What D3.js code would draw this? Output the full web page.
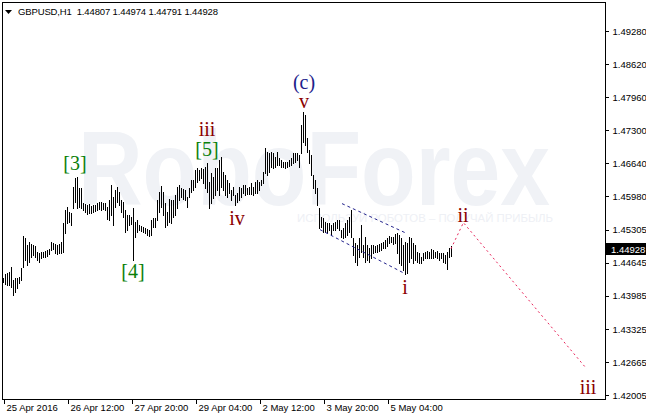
<!DOCTYPE html>
<html><head><meta charset="utf-8">
<script src="https://cdn.jsdelivr.net/npm/d3@7/dist/d3.min.js"></script>
<style>html,body{margin:0;padding:0;background:#fff;}svg{display:block;}</style>
</head><body>
<script>
// ---- data ----
const symbolTitle = "GBPUSD,H1  1.44807 1.44974 1.44791 1.44928";
const highs = [
1.4434,1.4442,1.4444,1.4446,1.4456,1.4430,1.4434,1.4434,1.4436,1.4454,
1.4518,1.4514,1.4500,1.4506,1.4502,1.4500,1.4498,1.4486,1.4484,1.4486,
1.4486,1.4488,1.4490,1.4492,1.4506,1.4504,1.4502,1.4500,1.4502,1.4506,
1.4544,1.4570,1.4576,1.4566,1.4564,1.4616,1.4634,1.4636,1.4614,1.4614,
1.4584,1.4582,1.4580,1.4582,1.4578,1.4580,
1.4580,1.4584,1.4586,1.4586,1.4584,1.4584,1.4576,1.4590,1.4620,1.4596,
1.4610,1.4616,1.4606,1.4590,1.4586,1.4570,1.4560,1.4560,1.4556,1.4574,
1.4546,1.4550,1.4540,1.4538,1.4536,1.4534,1.4532,1.4530,1.4550,1.4554,
1.4554,1.4590,1.4606,1.4618,1.4606,1.4584,1.4566,1.4592,1.4590,1.4590,
1.4600,1.4616,1.4620,1.4614,1.4612,1.4610,1.4596,
1.4614,1.4630,1.4630,1.4650,1.4654,1.4650,1.4654,
1.4652,1.4656,1.4664,1.4626,1.4644,1.4636,1.4654,1.4654,1.4670,1.4676,
1.4646,1.4640,1.4630,1.4624,1.4610,1.4616,1.4600,1.4604,1.4616,1.4614,
1.4620,1.4620,1.4614,1.4616,1.4624,1.4616,1.4626,1.4630,1.4626,1.4630,
1.4646,1.4694,1.4686,1.4684,1.4686,1.4684,1.4676,1.4686,
1.4674,1.4670,
1.4666,1.4666,1.4666,1.4670,1.4674,1.4684,1.4684,1.4684,1.4680,1.4740,
1.4766,1.4760,1.4714,1.4690,1.4680,1.4640,1.4630,1.4614,1.4574,1.4556,
1.4554,1.4546,1.4544,1.4544,1.4540,1.4544,1.4546,1.4550,1.4550,1.4530,
1.4534,1.4544,1.4550,1.4556,1.4570,1.4514,1.4504,1.4500,1.4514,1.4540,
1.4500,1.4516,1.4500,1.4494,1.4500,
1.4500,1.4498,1.4500,1.4502,1.4504,
1.4506,1.4510,1.4514,1.4518,1.4516,1.4516,1.4522,1.4524,1.4520,1.4514,
1.4500,1.4506,1.4504,1.4516,1.4514,1.4504,1.4500,1.4486,1.4484,1.4476,
1.4484,1.4486,1.4488,1.4486,1.4492,1.4490,1.4486,1.4488,1.4484,1.4484,
1.4484,1.4480,1.4486,1.4494,1.44974];
const lows = [
1.4426,1.4422,1.4420,1.4420,1.4416,1.4400,1.4406,1.4414,1.4424,1.4430,
1.4456,1.4470,1.4460,1.4466,1.4476,1.4480,1.4476,1.4470,1.4466,1.4474,
1.4476,1.4476,1.4478,1.4482,1.4490,1.4492,1.4484,1.4482,1.4484,1.4484,
1.4486,1.4524,1.4544,1.4546,1.4540,1.4574,1.4586,1.4574,1.4576,1.4574,
1.4570,1.4566,1.4562,1.4564,1.4564,1.4566,
1.4568,1.4570,1.4572,1.4570,1.4572,1.4570,1.4552,1.4550,1.4560,1.4540,
1.4576,1.4586,1.4580,1.4566,1.4556,1.4526,1.4530,1.4540,1.4542,1.4470,
1.4516,1.4526,1.4530,1.4528,1.4526,1.4524,1.4520,1.4518,1.4520,1.4536,
1.4536,1.4550,1.4566,1.4576,1.4560,1.4536,1.4540,1.4546,1.4544,1.4556,
1.4560,1.4574,1.4590,1.4596,1.4592,1.4590,1.4576,
1.4596,1.4606,1.4610,1.4616,1.4626,1.4630,1.4634,
1.4624,1.4614,1.4606,1.4574,1.4584,1.4594,1.4600,1.4610,1.4600,1.4616,
1.4610,1.4600,1.4596,1.4604,1.4590,1.4600,1.4580,1.4586,1.4590,1.4596,
1.4604,1.4600,1.4602,1.4602,1.4602,1.4600,1.4604,1.4604,1.4610,1.4620,
1.4624,1.4644,1.4640,1.4646,1.4656,1.4654,1.4656,1.4660,
1.4660,1.4656,
1.4656,1.4654,1.4656,1.4658,1.4660,1.4664,1.4666,1.4670,1.4656,1.4684,
1.4706,1.4700,1.4686,1.4664,1.4640,1.4614,1.4604,1.4580,1.4534,1.4536,
1.4526,1.4526,1.4524,1.4530,1.4520,1.4530,1.4530,1.4534,1.4530,1.4516,
1.4514,1.4516,1.4520,1.4526,1.4516,1.4480,1.4466,1.4460,1.4476,1.4486,
1.4476,1.4466,1.4470,1.4466,1.4474,
1.4484,1.4486,1.4486,1.4488,1.4490,
1.4494,1.4494,1.4498,1.4504,1.4506,1.4502,1.4504,1.4484,1.4464,1.4460,
1.4450,1.4442,1.4444,1.4466,1.4474,1.4464,1.4470,1.4466,1.4464,1.4464,
1.4470,1.4474,1.4474,1.4474,1.4474,1.4474,1.4476,1.4474,1.4470,1.4474,
1.4466,1.4464,1.4452,1.4476,1.44791];
const lastClose = 1.44928;

const yTicks = [1.49280,1.48620,1.47960,1.47300,1.46640,1.45980,1.45305,1.44645,1.43985,1.43325,1.42665,1.42005];
const xLabels = ["25 Apr 2016","26 Apr 12:00","27 Apr 20:00","29 Apr 04:00","2 May 12:00","3 May 20:00","5 May 04:00"];
const xLabelIdx = [0,32,64,96,128,160,192];

// wave projection (bar index, price)
const projIdx = [224, 230.2, 291.8];
const projPrice = [1.44928, 1.4545, 1.4253];
// triangle / channel lines
const chanUpperIdx = [169.5, 201], chanUpperPrice = [1.4583, 1.4525];
const chanLowerIdx = [158.5, 201], chanLowerPrice = [1.4531, 1.4443];

// wave labels
const waveText  = ["[3]","[4]","[5]","iii","iv","(c)","v","i","ii","iii"];
const waveIdx   = [36, 65, 102, 102, 117, 150.5, 150.5, 201, 230, 292.5];
const wavePrice = [1.4650, 1.4434, 1.4679, 1.4718, 1.4540, 1.4812, 1.4774, 1.4402, 1.4546, 1.4202];
const waveDegree= ["g","g","g","r","r","b","r","r","r","r"];

// ---- drawing ----
const W = 646, H = 414;
const L = 2, T = 2, R = 605, B = 399;
const svg = d3.select("body").append("svg").attr("width", W).attr("height", H);
svg.append("rect").attr("width", W).attr("height", H).attr("fill", "#fff");

const x = d3.scaleLinear().domain([0, 300]).range([3, 603]);
const y = d3.scaleLinear().domain([1.42005, 1.49280]).range([395, 31]);

// watermark
svg.append("text").attr("x", 78).attr("y", 205)
  .attr("font-family", "Liberation Sans, Arial, sans-serif").attr("font-weight", "bold")
  .attr("font-size", 106).attr("textLength", 472).attr("lengthAdjust", "spacingAndGlyphs")
  .attr("fill", "#f0f2f6").text("RoboForex");
svg.append("text").attr("x", 297).attr("y", 222)
  .attr("font-family", "Liberation Sans, Arial, sans-serif")
  .attr("font-size", 11).attr("textLength", 256).attr("lengthAdjust", "spacingAndGlyphs")
  .attr("fill", "#eef0f5").text("ИСПОЛЬЗУЙ РОБОТОВ – ПОЛУЧАЙ ПРИБЫЛЬ");

// bars
const bars = highs.map((h, i) => ({ i, h, l: lows[i] }));
svg.append("g").attr("shape-rendering", "crispEdges")
  .selectAll("line").data(bars).join("line")
  .attr("x1", d => Math.round(x(d.i)) + 0.5).attr("x2", d => Math.round(x(d.i)) + 0.5)
  .attr("y1", d => Math.round(y(d.h))).attr("y2", d => Math.round(y(d.l)) + 1)
  .attr("stroke", "#000").attr("stroke-width", 1);

// channel lines
const lineGen = d3.line().x(d => x(d[0])).y(d => y(d[1]));
[[chanUpperIdx, chanUpperPrice], [chanLowerIdx, chanLowerPrice]].forEach(([ix, pr]) => {
  svg.append("path").attr("d", lineGen(ix.map((v, k) => [v, pr[k]])))
    .attr("fill", "none").attr("stroke", "#23238c").attr("stroke-width", 1)
    .attr("stroke-dasharray", "3,3");
});
// projection
svg.append("path").attr("d", lineGen(projIdx.map((v, k) => [v, projPrice[k]])))
  .attr("fill", "none").attr("stroke", "#e8245a").attr("stroke-width", 1)
  .attr("stroke-dasharray", "2,3");

// wave labels
const degColor = { g: "#0a800a", r: "#8b0000", b: "#20208a" };
svg.append("g").selectAll("text").data(waveText).join("text")
  .attr("x", (d, k) => x(waveIdx[k])).attr("y", (d, k) => y(wavePrice[k]))
  .attr("text-anchor", "middle")
  .attr("font-family", "Liberation Serif, Times New Roman, serif").attr("font-size", 20)
  .attr("fill", (d, k) => degColor[waveDegree[k]]).text(d => d);

// frame
svg.append("rect").attr("x", L + 0.5).attr("y", T + 0.5).attr("width", R - L).attr("height", B - T)
  .attr("fill", "none").attr("stroke", "#000").attr("shape-rendering", "crispEdges");

// right axis
const ya = svg.append("g").attr("transform", `translate(${R + 0.5},0)`)
  .call(d3.axisRight(y).tickValues(yTicks).tickFormat(d3.format(".5f")).tickSize(3).tickPadding(4));
ya.select(".domain").remove();
ya.selectAll("line").attr("shape-rendering", "crispEdges");
ya.selectAll("text").attr("font-family", "Liberation Sans, Arial, sans-serif").attr("font-size", 9.5).attr("fill", "#000");

// bottom axis
const xa = svg.append("g").attr("transform", `translate(0,${B + 0.5})`)
  .call(d3.axisBottom(x).tickValues(xLabelIdx).tickFormat((d, k) => xLabels[k]).tickSize(4).tickPadding(1));
xa.select(".domain").remove();
xa.selectAll("line").attr("shape-rendering", "crispEdges");
xa.selectAll(".tick line").attr("transform", "translate(0.5,0)");
xa.selectAll("text").attr("text-anchor", "start").attr("dx", 3)
  .attr("font-family", "Liberation Sans, Arial, sans-serif").attr("font-size", 9.5).attr("fill", "#000");

// current price tag
const cy = y(lastClose);
svg.append("rect").attr("x", R + 1).attr("y", Math.round(cy) - 6).attr("width", W - R - 1).attr("height", 12)
  .attr("fill", "#000");
svg.append("text").attr("x", R + 6).attr("y", Math.round(cy) + 3.5)
  .attr("font-family", "Liberation Sans, Arial, sans-serif").attr("font-size", 9.5).attr("fill", "#fff")
  .text(d3.format(".5f")(lastClose));

// title
svg.append("path").attr("d", "M5,10 L12,10 L8.5,14 Z").attr("fill", "#000");
svg.append("text").attr("x", 18).attr("y", 15)
  .attr("font-family", "Liberation Sans, Arial, sans-serif").attr("font-size", 9.5)
  .attr("textLength", 200).attr("lengthAdjust", "spacing").attr("fill", "#000")
  .attr("xml:space", "preserve").style("white-space", "pre")
  .text(symbolTitle);
</script>
</body></html>
